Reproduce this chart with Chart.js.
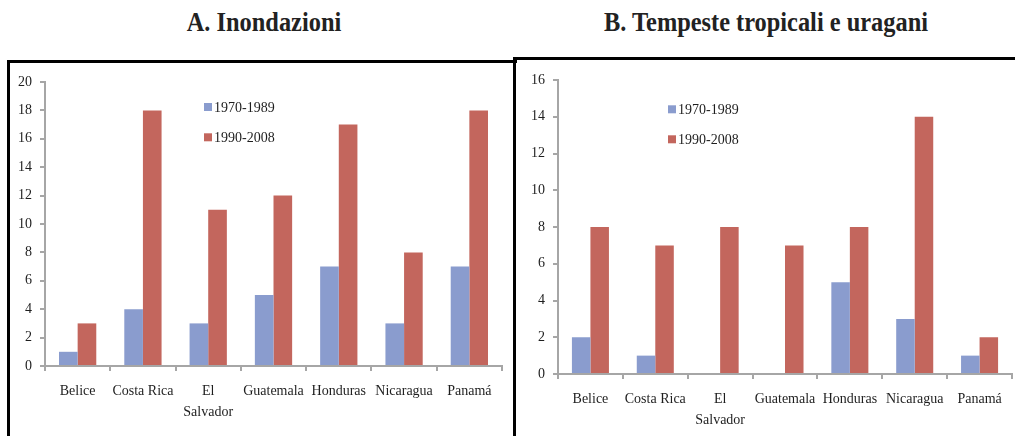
<!DOCTYPE html>
<html>
<head>
<meta charset="utf-8">
<script src="https://cdn.jsdelivr.net/npm/chart.js@4"></script>
<style>
  html, body { margin: 0; padding: 0; background: #fff; }
  body { width: 1015px; height: 436px; position: relative; overflow: hidden; }
  .title {
    position: absolute; width: 500px; text-align: center;
    font: bold 26.5px 'Liberation Serif', 'Times New Roman', serif;
    line-height: 1; color: #222; top: 8.5px;
  }
  .box { position: absolute; box-sizing: border-box; border-top: 3px solid #000; border-left: 3px solid #000; }
  canvas { position: absolute; }
</style>
</head>
<body>
<div class="title" id="titleA" style="left:14px; transform:scaleX(0.92);">A. Inondazioni</div>
<div class="title" id="titleB" style="left:516px; transform:scaleX(0.92);">B. Tempeste tropicali e uragani</div>
<div class="box" style="left:7px; top:60px; width:510px; height:400px;"></div>
<div class="box" style="left:513px; top:57px; width:520px; height:400px;"></div>
<div style="position:absolute; left:10px; top:62px; width:502px; height:374px;"><canvas id="chartA"></canvas></div>
<div style="position:absolute; left:516px; top:60px; width:499px; height:376px;"><canvas id="chartB"></canvas></div>

<script>
/* dati */
const paesi = ['Belice', 'Costa Rica', ['El', 'Salvador'], 'Guatemala', 'Honduras', 'Nicaragua', 'Panamá'];
const periodi = ['1970-1989', '1990-2008'];

const inondazioni1970 = [1, 4, 3, 5, 7, 3, 7];
const inondazioni1990 = [3, 18, 11, 12, 17, 8, 18];

const tempeste1970 = [2, 1, 0, 0, 5, 3, 1];
const tempeste1990 = [8, 7, 8, 7, 8, 14, 2];

const COLORS = {
  blue: '#8A9CCE',
  red:  '#C3665D',
  axis: '#A6A6A6',
  text: '#1E1E1E',
};

const FONT = { family: "'Liberation Serif', 'Times New Roman', serif", size: 14 };

/* legenda verticale dentro l'area del grafico */
const insideLegend = {
  id: 'insideLegend',
  afterDraw(chart, args, opts) {
    const ctx = chart.ctx;
    const a = chart.chartArea;
    ctx.save();
    ctx.font = `${FONT.size}px ${FONT.family}`;
    ctx.textBaseline = 'middle';
    ctx.fillStyle = COLORS.text;
    chart.data.datasets.forEach((ds, i) => {
      const x = a.left + opts.x;
      const y = a.top + opts.y + i * opts.gap;
      ctx.fillStyle = ds.backgroundColor;
      ctx.fillRect(x, y - 4, 8, 8);
      ctx.fillStyle = COLORS.text;
      ctx.fillText(ds.label, x + 10, y + 1);
    });
    ctx.restore();
  },
};

function makeChart(canvasId, serie1, serie2, yMax, yWidth, xHeight, padRight, legendPos) {
  return new Chart(document.getElementById(canvasId), {
    type: 'bar',
    data: {
      labels: paesi,
      datasets: [
        { label: periodi[0], data: serie1, backgroundColor: COLORS.blue, borderWidth: 0 },
        { label: periodi[1], data: serie2, backgroundColor: COLORS.red, borderWidth: 0 },
      ],
    },
    options: {
      responsive: true, maintainAspectRatio: false, animation: false,
      categoryPercentage: 0.571, barPercentage: 1.0,
      layout: { padding: { top: 20, right: padRight, left: 0, bottom: 0 } },
      plugins: {
        legend: { display: false },
        tooltip: { enabled: false },
        insideLegend: legendPos,
      },
      scales: {
        x: {
          grid: { display: true, drawOnChartArea: false, tickLength: 5, color: COLORS.axis, lineWidth: 2 },
          border: { color: COLORS.axis, width: 2 },
          ticks: { font: { ...FONT, lineHeight: 1.5 }, color: COLORS.text, padding: 10, maxRotation: 0, autoSkip: false },
          afterFit: s => { s.height = xHeight; },
        },
        y: {
          min: 0, max: yMax,
          grid: { display: true, drawOnChartArea: false, tickLength: 5, color: COLORS.axis, lineWidth: 2 },
          border: { color: COLORS.axis, width: 2 },
          ticks: { stepSize: 2, font: FONT, color: COLORS.text, padding: 8 },
          afterFit: s => { s.width = yWidth; },
        },
      },
    },
    plugins: [insideLegend],
  });
}

makeChart('chartA', inondazioni1970, inondazioni1990, 20, 35, 70, 10, { x: 159, y: 25, gap: 30.3 });
makeChart('chartB', tempeste1970, tempeste1990, 16, 42, 62, 3, { x: 110, y: 29.3, gap: 30 });
</script>
</body>
</html>
